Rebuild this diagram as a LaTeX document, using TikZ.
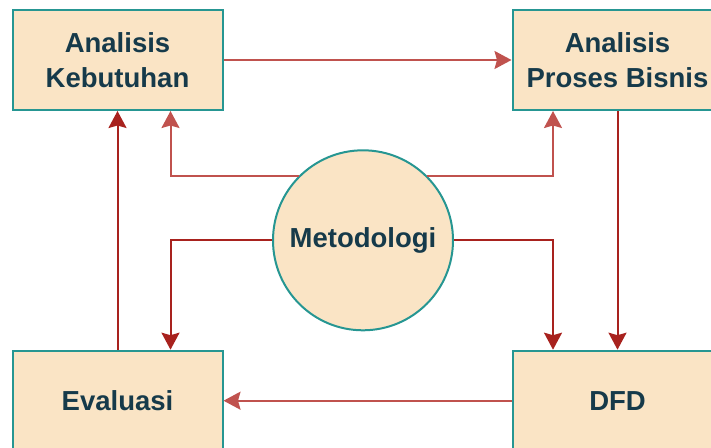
\documentclass[tikz,border=0pt]{standalone}
\usepackage{fontspec}
\setmainfont{Liberation Sans}
\usetikzlibrary{arrows.meta,calc}
\definecolor{boxfill}{RGB}{250,228,197}
\definecolor{boxline}{RGB}{38,150,146}
\definecolor{txt}{RGB}{22,58,74}
\definecolor{darkred}{RGB}{168,34,30}
\definecolor{lightred}{RGB}{192,82,78}
\tikzset{
  stepbox/.style={draw=boxline, fill=boxfill, line width=2pt, minimum width=210pt, minimum height=100pt, inner sep=0pt, align=center, text=txt, font=\fontsize{27.5}{34.7}\selectfont\bfseries},
  methcircle/.style={circle, draw=boxline, fill=boxfill, line width=2pt, minimum size=180pt, inner sep=0pt, text=txt, font=\fontsize{27.5}{34.7}\selectfont\bfseries},
  arrlight/.style={draw=lightred, line width=2pt, -{Stealth[length=17pt,width=18pt,inset=2.5pt]}},
  arrdark/.style={draw=darkred, line width=2pt, -{Stealth[length=17pt,width=18pt,inset=2.5pt]}}
}
\begin{document}
\begin{tikzpicture}[x=1pt,y=-1pt]
\useasboundingbox (0,0) rectangle (711,447);
\clip (0,0) rectangle (711,447);
\node[stepbox] (ak) at (117.5,60) {Analisis\\Kebutuhan};
\node[stepbox] (apb) at (617.5,60) {Analisis\\Proses Bisnis};
\node[stepbox] (ev) at (117.5,400.7) {Evaluasi};
\node[stepbox] (dfd) at (617.5,400.7) {DFD};
\node[methcircle] (m) at (363,240.3) {Metodologi};
\draw[arrlight] (ak.east) -- (apb.west);
\draw[arrlight] (m.north west) -| ($(ak.south)+(53,0)$);
\draw[arrlight] (m.north east) -| ($(apb.south)+(-64.5,0)$);
\draw[arrdark] (m.west) -| ($(ev.north)+(53,0)$);
\draw[arrdark] (m.east) -| ($(dfd.north)+(-64.5,0)$);
\draw[arrdark] (apb.south) -- (dfd.north);
\draw[arrdark] (ev.north) -- (ak.south);
\draw[arrlight] (dfd.west) -- (ev.east);
\end{tikzpicture}
\end{document}
